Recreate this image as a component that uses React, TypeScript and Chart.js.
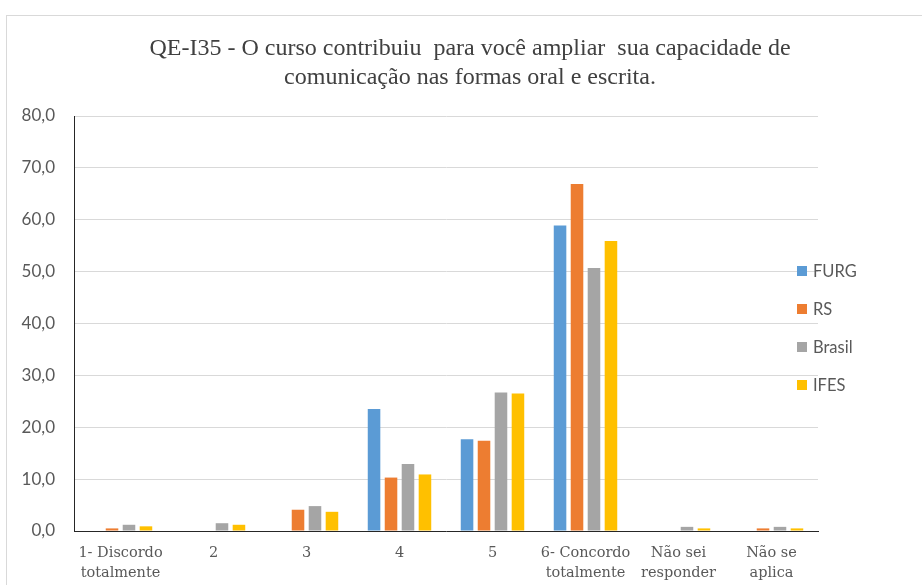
import React, { useEffect, useRef } from "react";
import { Chart, registerables } from "chart.js";

Chart.register(...registerables);

const titleLines = [
  "QE-I35 - O curso contribuiu  para você ampliar  sua capacidade de",
  "comunicação nas formas oral e escrita.",
];
const categories: (string | string[])[] = [
  ["1- Discordo", "totalmente"],
  "2",
  "3",
  "4",
  "5",
  ["6- Concordo", "totalmente"],
  ["Não sei", "responder"],
  ["Não se", "aplica"],
];
const seriesNames = ["FURG", "RS", "Brasil", "IFES"];
const seriesColors = ["#5B9BD5", "#ED7D31", "#A5A5A5", "#FFC000"];
const furg = [0, 0, 0, 23.5, 17.7, 58.9, 0, 0];
const rs = [0.5, 0, 4.1, 10.3, 17.4, 66.9, 0, 0.5];
const brasil = [1.2, 1.5, 4.8, 12.9, 26.7, 50.7, 0.8, 0.8];
const ifes = [0.9, 1.2, 3.7, 10.9, 26.5, 55.9, 0.5, 0.5];
const seriesValues = [furg, rs, brasil, ifes];
const yMin = 0;
const yMax = 80;
const yStep = 10;

export default function App() {
  const ref = useRef<HTMLCanvasElement | null>(null);
  useEffect(() => {
    if (!ref.current) return;
    const chart = new Chart(ref.current, {
      type: "bar",
      data: {
        labels: categories,
        datasets: seriesNames.map((n, i) => ({
          label: n,
          data: seriesValues[i],
          backgroundColor: seriesColors[i],
          borderWidth: 0,
          categoryPercentage: 0.73,
          barPercentage: 0.74,
        })),
      },
      options: {
        animation: false,
        responsive: false,
        maintainAspectRatio: false,
        layout: { padding: { left: 0, right: 122, top: 116, bottom: 0 } },
        plugins: {
          legend: { display: false },
          tooltip: { enabled: false },
          title: { display: false },
        },
        scales: {
          x: {
            grid: { display: false, drawTicks: false },
            border: { display: true, color: "#262626", width: 1 },
            ticks: {
              color: "#595959",
              font: { family: "'DejaVu Serif', serif", size: 14.5, lineHeight: 20 / 14.5 },
              padding: 12,
              maxRotation: 0,
              autoSkip: false,
            },
            afterFit: (s: any) => {
              s.height = 54;
            },
          },
          y: {
            min: yMin,
            max: yMax,
            grid: { color: "#d9d9d9", lineWidth: 1, drawTicks: false },
            border: { display: true, color: "#262626", width: 1 },
            ticks: {
              stepSize: yStep,
              color: "#595959",
              font: { family: "Lato, sans-serif", size: 17 },
              padding: 19,
              callback: (v: any) => Number(v).toFixed(1).replace(".", ","),
            },
            afterFit: (s: any) => {
              s.width = 74;
            },
          },
        },
      },
    });
    return () => chart.destroy();
  }, []);

  const legendCenters = [270.5, 308.5, 346.5, 384.5];

  return (
    <div style={{ position: "absolute", left: 0, top: 0, width: 922, height: 585, overflow: "hidden", background: "#fff" }}>
      <div
        style={{
          position: "absolute",
          left: 6,
          top: 15,
          width: 980,
          height: 640,
          border: "1px solid #d9d9d9",
          boxSizing: "border-box",
        }}
      />
      <canvas ref={ref} width={940} height={585} style={{ position: "absolute", left: 0, top: 0, width: 940, height: 585 }} />
      {titleLines.map((t, i) => (
        <div
          key={i}
          style={{
            position: "absolute",
            left: 70,
            width: 800,
            top: 32.5 + i * 29,
            height: 29,
            lineHeight: "29px",
            textAlign: "center",
            fontFamily: "'Liberation Serif', serif",
            fontSize: 24,
            color: "#404040",
            whiteSpace: "pre",
          }}
        >
          {t}
        </div>
      ))}
      {seriesNames.map((n, i) => (
        <div
          key={n}
          style={{
            position: "absolute",
            left: 797,
            top: legendCenters[i] - 11,
            height: 22,
            display: "flex",
            alignItems: "center",
            fontFamily: "Lato, sans-serif",
            fontSize: 16.5,
            color: "#595959",
            whiteSpace: "nowrap",
          }}
        >
          <span style={{ display: "inline-block", width: 10, height: 10, background: seriesColors[i], marginRight: 6 }} />
          {n}
        </div>
      ))}
    </div>
  );
}
